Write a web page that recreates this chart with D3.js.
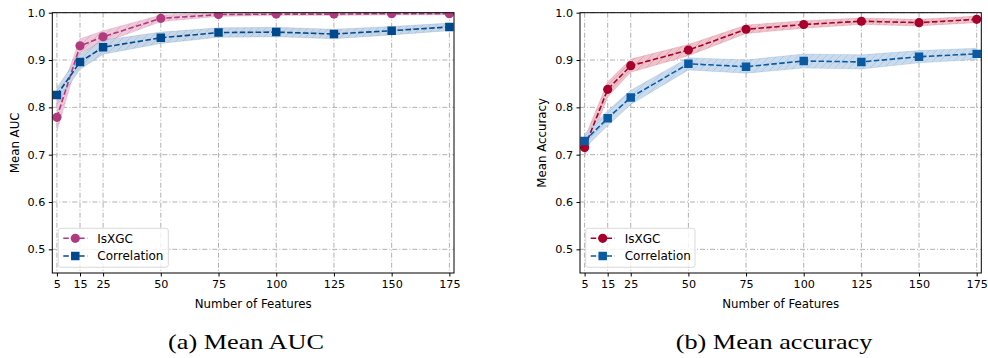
<!DOCTYPE html>
<html>
<head>
<meta charset="utf-8">
<script src="https://cdn.jsdelivr.net/npm/d3@7"></script>
<style>
body{margin:0;background:#fff;}
svg text{font-family:"DejaVu Sans",sans-serif;}
</style>
</head>
<body>
<svg id="fig" width="988" height="358"></svg>
<script>
// 横轴特征数
var FEATURES=[5,15,25,50,75,100,125,150,175];
var X_TICKS=[5,15,25,50,75,100,125,150,175];
var Y_TICKS=[0.5,0.6,0.7,0.8,0.9,1.0];
var SERIES_NAMES=["IsXGC","Correlation"];

// (a) Mean AUC
var AUC_ISXGC=[0.779,0.930,0.949,0.988,0.996,0.997,0.997,0.998,0.998];
var AUC_ISXGC_STD=[0.030,0.015,0.013,0.007,0.004,0.003,0.003,0.003,0.003];
var AUC_CORR=[0.826,0.896,0.927,0.947,0.958,0.959,0.955,0.962,0.970];
var AUC_CORR_STD=[0.016,0.016,0.015,0.012,0.010,0.010,0.010,0.009,0.008];

// (b) Mean accuracy
var ACC_ISXGC=[0.715,0.838,0.888,0.921,0.965,0.975,0.982,0.979,0.986];
var ACC_ISXGC_STD=[0.020,0.016,0.014,0.012,0.009,0.008,0.007,0.007,0.007];
var ACC_CORR=[0.729,0.777,0.821,0.892,0.886,0.898,0.896,0.907,0.913];
var ACC_CORR_STD=[0.015,0.016,0.015,0.013,0.014,0.015,0.015,0.013,0.012];

var CAPTIONS=["(a) Mean AUC","(b) Mean accuracy"];

var svg=d3.select("#fig");
var defs=svg.append("defs");

// 斜线填充图案
function makeHatch(id,fill,line){
	var p=defs.append("pattern")
		.attr("id",id)
		.attr("patternUnits","userSpaceOnUse")
		.attr("width",7).attr("height",7);
	p.append("rect").attr("width",7).attr("height",7).attr("fill",fill);
	p.append("path").attr("d","M-1,8 L8,-1 M-1,1 L1,-1 M6,8 L8,6")
		.attr("stroke",line).attr("stroke-width",0.7);
}
makeHatch("hA1","#edc9da","#d9a3bf");
makeHatch("hA2","#c8d7e8","#a3bcd8");
makeHatch("hB1","#eec3cb","#dc9aa6");
makeHatch("hB2","#c9dbed","#a5c3e1");

var panels=[
	{left:52.3,right:454,ylabel:"Mean AUC",ylabelX:15,cap:CAPTIONS[0],capX:246,
	 s:[{v:AUC_ISXGC,e:AUC_ISXGC_STD,c:"#b03a7d",h:"hA1",m:"circle"},
	    {v:AUC_CORR,e:AUC_CORR_STD,c:"#00498e",h:"hA2",m:"square"}],leg:{x:58.3,w:110}},
	{left:580,right:981.3,ylabel:"Mean Accuracy",ylabelX:542,cap:CAPTIONS[1],capX:774,
	 s:[{v:ACC_ISXGC,e:ACC_ISXGC_STD,c:"#a8002c",h:"hB1",m:"circle"},
	    {v:ACC_CORR,e:ACC_CORR_STD,c:"#0a5aa3",h:"hB2",m:"square"}],leg:{x:585.7,w:109.3}}
];

var TOP=12.7, BOTTOM=273;

panels.forEach(function(pn,pi){
	var x=d3.scaleLinear().domain([3,177]).range([pn.left,pn.right]);
	var y=d3.scaleLinear().domain([0.45,1.0]).range([BOTTOM,TOP]);
	var g=svg.append("g");
	var clipId="clip"+pi;
	defs.append("clipPath").attr("id",clipId).append("rect")
		.attr("x",pn.left).attr("y",TOP).attr("width",pn.right-pn.left).attr("height",BOTTOM-TOP);

	// 网格
	g.selectAll(".gx").data(X_TICKS).enter().append("line")
		.attr("x1",d=>x(d)).attr("x2",d=>x(d)).attr("y1",TOP).attr("y2",BOTTOM)
		.style("stroke","#b0b0b0").style("stroke-width",1).attr("stroke-dasharray","5 2 1 2");
	g.selectAll(".gy").data(Y_TICKS).enter().append("line")
		.attr("x1",pn.left).attr("x2",pn.right).attr("y1",d=>y(d)).attr("y2",d=>y(d))
		.style("stroke","#b0b0b0").style("stroke-width",1).attr("stroke-dasharray","5 2 1 2");

	var plot=g.append("g").attr("clip-path","url(#"+clipId+")");
	pn.s.forEach(function(s){
		var pts=FEATURES.map((f,i)=>({f:f,v:s.v[i],e:s.e[i]}));
		var area=d3.area().x(d=>x(d.f)).y0(d=>y(d.v-d.e)).y1(d=>y(d.v+d.e));
		plot.append("path").datum(pts).attr("d",area)
			.attr("fill","url(#"+s.h+")").attr("stroke",s.c).attr("stroke-opacity",0.15).attr("stroke-width",0.8);
	});
	pn.s.forEach(function(s){
		var pts=FEATURES.map((f,i)=>({f:f,v:s.v[i]}));
		var line=d3.line().x(d=>x(d.f)).y(d=>y(d.v));
		plot.append("path").datum(pts).attr("d",line)
			.attr("fill","none").attr("stroke",s.c).attr("stroke-width",1.6).attr("stroke-dasharray","5.5 2.4");
		var sym=d3.symbol().type(s.m=="circle"?d3.symbolCircle:d3.symbolSquare).size(s.m=="circle"?66:72);
		plot.selectAll(null).data(pts).enter().append("path")
			.attr("d",sym).attr("transform",d=>"translate("+x(d.f)+","+y(d.v)+")")
			.attr("fill",s.c);
	});

	// 坐标框
	g.append("rect").attr("x",pn.left).attr("y",TOP).attr("width",pn.right-pn.left).attr("height",BOTTOM-TOP)
		.attr("fill","none").attr("stroke","#000").attr("stroke-width",1);

	var xa=g.append("g").attr("transform","translate(0,"+BOTTOM+")")
		.call(d3.axisBottom(x).tickValues(X_TICKS).tickSize(3.5).tickPadding(3.5));
	var ya=g.append("g").attr("transform","translate("+pn.left+",0)")
		.call(d3.axisLeft(y).tickValues(Y_TICKS).tickFormat(d3.format(".1f")).tickSize(3.5).tickPadding(3.5));
	[xa,ya].forEach(function(a){
		a.select(".domain").remove();
		a.selectAll("text").style("font-size","11.2px").style("font-family","DejaVu Sans").attr("fill","#000");
		a.selectAll("line").attr("stroke","#000");
	});

	g.append("text").text("Number of Features")
		.attr("x",(pn.left+pn.right)/2).attr("y",307.5).attr("text-anchor","middle")
		.style("font-size","11.8px");
	g.append("text").text(pn.ylabel)
		.attr("transform","translate("+pn.ylabelX+","+((TOP+BOTTOM)/2)+") rotate(-90)")
		.attr("text-anchor","middle").attr("dy","0.35em").style("font-size","11.8px");

	// 图例
	var lg=g.append("g");
	lg.append("rect").attr("x",pn.leg.x).attr("y",228.3).attr("width",pn.leg.w).attr("height",39)
		.attr("rx",2.5).attr("fill","#fff").attr("fill-opacity",0.8).attr("stroke","#d0d0d0").attr("stroke-width",0.8);
	pn.s.forEach(function(s,i){
		var ly=238.3+i*17.7;
		var lx=pn.leg.x+5;
		lg.append("line").attr("x1",lx).attr("x2",lx+24).attr("y1",ly).attr("y2",ly)
			.attr("stroke",s.c).attr("stroke-width",1.6).attr("stroke-dasharray","5.5 2.4");
		var sym=d3.symbol().type(s.m=="circle"?d3.symbolCircle:d3.symbolSquare).size(s.m=="circle"?66:72);
		lg.append("path").attr("d",sym).attr("transform","translate("+(lx+12)+","+ly+")").attr("fill",s.c);
		lg.append("text").text(SERIES_NAMES[i]).attr("x",lx+34).attr("y",ly).attr("dy","0.35em")
			.style("font-size","12px");
	});

	// 子图标题（横向拉宽以接近 LaTeX 字形）
	svg.append("text").text(pn.cap)
		.attr("transform","translate("+pn.capX+",349) scale(1.25,1)")
		.attr("text-anchor","middle")
		.style("font-family","'Liberation Serif',serif").style("font-size","21px");
});
</script>
</body>
</html>
